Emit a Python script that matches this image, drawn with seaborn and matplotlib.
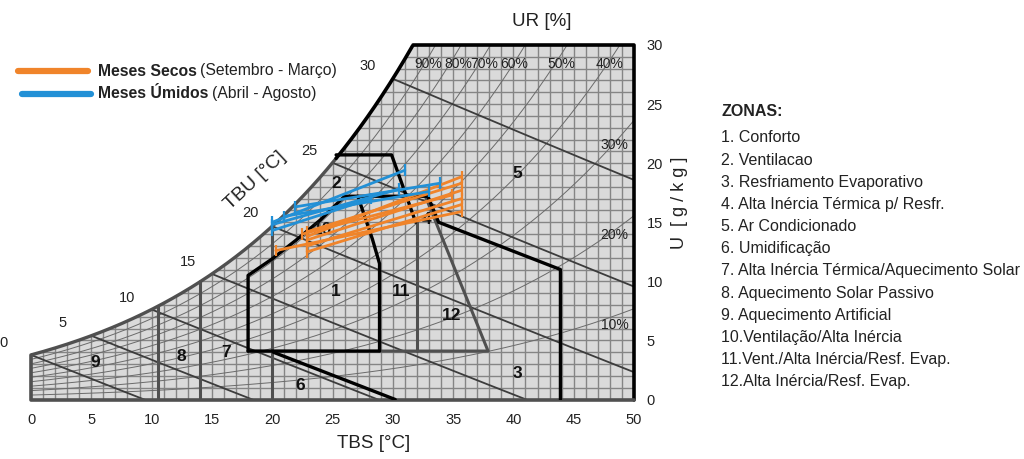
import numpy as np
import pandas as pd
import matplotlib
matplotlib.use("Agg")
import matplotlib.pyplot as plt
import seaborn as sns
from matplotlib.patches import Polygon
from matplotlib.lines import Line2D

# ---------------- data ----------------
months_dry = ["Set", "Out", "Nov", "Dez", "Jan", "Fev", "Mar"]
dry_tbs_min = [20.3, 22.9, 22.9, 22.9, 22.9, 22.9, 22.5]
dry_u_min = [12.6, 12.5, 13.0, 13.5, 14.2, 13.8, 14.0]
dry_tbs_max = [35.7, 35.7, 35.7, 35.7, 35.7, 35.7, 34.9]
dry_u_max = [15.9, 16.5, 17.0, 17.7, 18.3, 18.85, 17.3]

months_wet = ["Abr", "Mai", "Jun", "Jul", "Ago"]
wet_tbs_min = [21.9, 20.0, 20.0, 20.0, 21.0]
wet_u_min = [16.3, 15.0, 14.3, 14.8, 15.5]
wet_tbs_max = [33.9, 31.0, 28.2, 30.5, 33.0]
wet_u_max = [18.3, 19.4, 17.0, 17.8, 17.6]

x_ticks = [0, 5, 10, 15, 20, 25, 30, 35, 40, 45, 50]
y_ticks = [0, 5, 10, 15, 20, 25, 30]

rh_levels = [0.1, 0.2, 0.3, 0.4, 0.5, 0.6, 0.7, 0.8, 0.9]
rh_label_text = ["90%", "80%", "70%", "60%", "50%", "40%", "30%", "20%", "10%"]
rh_label_t = [32.9, 35.4, 37.6, 40.1, 44.0, 48.0, 48.4, 48.4, 48.4]
rh_label_u = [28.4, 28.4, 28.4, 28.4, 28.4, 28.4, 21.5, 13.9, 6.3]

tbu_levels = [0, 5, 10, 15, 20, 25, 30]
tbu_label_t = [-2.3, 2.65, 8.0, 13.0, 18.2, 23.1, 27.9]
tbu_label_u = [4.8, 6.5, 8.6, 11.6, 15.8, 21.0, 28.2]

# zone boundary lines (TBS, U)
zone_black_lines = [
    [(18, 4.1), (18, 10.5), (20, 11.9), (22, 13.5), (24, 15.2), (26, 17.2), (32.9, 17.2),
     (33.8, 15.0), (43.9, 11.0), (43.9, 0)],                      # zones 1/4/3
    [(27.1, 17.2), (28.3, 13.6), (28.9, 11.5), (28.9, 4.1), (18, 4.1)],  # zone 1 right/bottom
    [(25.3, 20.7), (29.9, 20.7), (31.9, 15.0)],                   # zone 2
    [(20.1, 4.0), (30.2, 0.0)],                                  # zone 6
]
zone_gray_lines = [
    [(10.5, 0), (10.5, 7.9)],
    [(14, 0), (14, 10.0)],
    [(20, 0), (20, 14.7)],
    [(32, 15.0), (32, 4.1)],
    [(28.9, 4.1), (37.9, 4.1), (32.7, 17.2)],
]

zone_ids = ["1", "2", "3", "4", "5", "6", "7", "8", "9", "10", "11", "12"]
zone_label_t = [25.3, 25.3, 40.3, 32.8, 40.3, 22.3, 16.2, 12.5, 5.3, 24.2, 30.7, 34.9]
zone_label_u = [9.1, 18.3, 2.2, 15.2, 19.1, 1.2, 4.0, 3.6, 3.1, 14.4, 9.1, 7.1]

zone_names = [
    "1. Conforto", "2. Ventilacao", "3. Resfriamento Evaporativo",
    "4. Alta Inércia Térmica p/ Resfr.", "5. Ar Condicionado", "6. Umidificação",
    "7. Alta Inércia Térmica/Aquecimento Solar", "8. Aquecimento Solar Passivo",
    "9. Aquecimento Artificial", "10.Ventilação/Alta Inércia",
    "11.Vent./Alta Inércia/Resf. Evap.", "12.Alta Inércia/Resf. Evap.",
]

ORANGE = "#F0842A"
BLUE = "#2290D6"

# ---------------- psychrometrics ----------------
P = 101.325


def pws(t):
    return 0.61094 * np.exp(17.625 * t / (t + 243.04))


def w_rh(t, rh=1.0):
    p = rh * pws(t)
    return 622.0 * p / (P - p)


def w_wb(t, twb):
    ws = w_rh(twb) / 1000.0
    return ((2501 - 2.326 * twb) * ws - 1.006 * (t - twb)) / (2501 + 1.86 * t - 4.186 * twb) * 1000


tt = np.linspace(0, 50, 2001)
wsat = w_rh(tt)
t30 = float(np.interp(30, wsat, tt))

# ---------------- figure ----------------
sns.set_theme(style="white")
plt.rcParams["font.family"] = ["Liberation Sans", "DejaVu Sans"]

fig = plt.figure(figsize=(10.24, 4.59), dpi=100)
W, H = 1024, 459
ax = fig.add_axes([31 / W, 1 - 399.5 / H, 603 / W, 354.5 / H])
ax.set_xlim(0, 50)
ax.set_ylim(0, 30)
for s in ax.spines.values():
    s.set_visible(False)
ax.set_facecolor("none")

# region
mask = tt <= t30
region = [(0, 0)] + list(zip(tt[mask], wsat[mask])) + [(t30, 30), (50, 30), (50, 0)]
ax.add_patch(Polygon(region, closed=True, facecolor="#dadada", edgecolor="none", zorder=0))
clip = Polygon(region, closed=True, transform=ax.transData, facecolor="none", edgecolor="none")

# grid
for i in range(0, 51):
    l, = ax.plot([i, i], [0, 30], color="#858585", lw=1.0, zorder=1)
    l.set_clip_path(clip)
for j in range(0, 31):
    l, = ax.plot([0, 50], [j, j], color="#858585", lw=1.0, zorder=1)
    l.set_clip_path(clip)

# RH curves
for rh in rh_levels:
    l, = ax.plot(tt, w_rh(tt, rh), color="#6a6a6a", lw=0.7, zorder=2)
    l.set_clip_path(clip)

# wet-bulb lines
for twb in tbu_levels:
    tw = np.linspace(twb, 50, 300)
    ww = w_wb(tw, twb)
    l, = ax.plot(tw, ww, color="#3c3c3c", lw=1.3, zorder=3)
    l.set_clip_path(clip)

# outline
split = tt <= 25.3
ax.plot(tt[split], wsat[split], color="#505050", lw=2.4, zorder=4, solid_capstyle="round")
up = (tt >= 25.3) & mask
ax.plot(list(tt[up]) + [t30], list(wsat[up]) + [30], color="black", lw=2.6, zorder=4)
ax.plot([t30, 50, 50], [30, 30, 0], color="black", lw=2.6, zorder=4, clip_on=False)
ax.plot([0, 0, 50], [w_rh(0.0), 0, 0], color="#505050", lw=2.6, zorder=4, clip_on=False)

# zones
for pts in zone_gray_lines:
    a = np.array(pts)
    ax.plot(a[:, 0], a[:, 1], color="#505050", lw=2.2, zorder=5)
for pts in zone_black_lines:
    a = np.array(pts)
    ax.plot(a[:, 0], a[:, 1], color="black", lw=2.4, zorder=6)

for zid, zt, zu in zip(zone_ids, zone_label_t, zone_label_u):
    ax.text(zt, zu, zid, fontsize=12.5, fontweight="bold", ha="center", va="center",
            color="#111111", zorder=6)

# data lines
rows = []
for m, a, b, c, d in zip(months_dry, dry_tbs_min, dry_u_min, dry_tbs_max, dry_u_max):
    rows += [("Secos", m, a, b), ("Secos", m, c, d)]
for m, a, b, c, d in zip(months_wet, wet_tbs_min, wet_u_min, wet_tbs_max, wet_u_max):
    rows += [("Umidos", m, a, b), ("Umidos", m, c, d)]
df = pd.DataFrame(rows, columns=["periodo", "mes", "TBS", "U"])
pal = {"Secos": ORANGE, "Umidos": BLUE}
sns.lineplot(data=df, x="TBS", y="U", hue="periodo", units="mes", estimator=None, sort=False,
             palette=pal, lw=2.0, legend=False, ax=ax, zorder=7)
sns.scatterplot(data=df, x="TBS", y="U", hue="periodo", palette=pal, marker="|", s=70,
                linewidth=1.6, legend=False, ax=ax, zorder=7)

# labels on chart
for txt, t, u in zip(rh_label_text, rh_label_t, rh_label_u):
    ax.text(t, u, txt, fontsize=10, ha="center", va="center", color="#222222", zorder=8)
for lev, t, u in zip(tbu_levels, tbu_label_t, tbu_label_u):
    ax.text(t, u, str(lev), fontsize=10.5, ha="center", va="center", color="#222222",
            clip_on=False, zorder=8)

ax.set_xticks(x_ticks)
ax.set_yticks(y_ticks)
ax.yaxis.tick_right()
ax.tick_params(axis="x", length=0, pad=10, labelsize=10.5, colors="#222222")
ax.tick_params(axis="y", length=0, pad=9, labelsize=10.5, colors="#222222")
ax.set_xlabel("")
ax.set_ylabel("")

# axis titles
fig.text(374 / W, 1 - 444 / H, "TBS [°C]", fontsize=13.5, ha="center", va="center", color="#222222")
fig.text(542 / W, 1 - 22 / H, "UR [%]", fontsize=13.5, ha="center", va="center", color="#222222")
fig.text(680 / W, 1 - 203 / H, "U  [ g / k g ]", fontsize=13, rotation=90,
         ha="center", va="center", color="#222222")
fig.text(255 / W, 1 - 181 / H, "TBU [°C]", fontsize=14, rotation=43,
         ha="center", va="center", color="#222222", rotation_mode="anchor")

# legend
fig.add_artist(Line2D([18 / W, 88 / W], [1 - 71 / H, 1 - 71 / H], color=ORANGE, lw=4.5,
                      transform=fig.transFigure))
fig.add_artist(Line2D([22 / W, 91 / W], [1 - 94 / H, 1 - 94 / H], color=BLUE, lw=4.5,
                      transform=fig.transFigure))
fig.text(98 / W, 1 - 71 / H, "Meses Secos", fontsize=11.3, fontweight="bold", va="center",
         color="#222222")
fig.text(200.5 / W, 1 - 71 / H, "(Setembro - Março)", fontsize=11.3, va="center", color="#222222")
fig.text(98 / W, 1 - 93.5 / H, "Meses Úmidos", fontsize=11.3, fontweight="bold", va="center",
         color="#222222")
fig.text(212 / W, 1 - 93.5 / H, "(Abril - Agosto)", fontsize=11.3, va="center", color="#222222")

# zone list
fig.text(721 / W, 1 - 112 / H, "ZONAS:", fontsize=11.5, fontweight="bold", va="center",
         color="#222222")
for k, name in enumerate(zone_names):
    y = 138 + 22.15 * k
    fig.text(721 / W, 1 - y / H, name, fontsize=11.5, va="center", color="#222222")

fig.savefig("out.png", dpi=100)
